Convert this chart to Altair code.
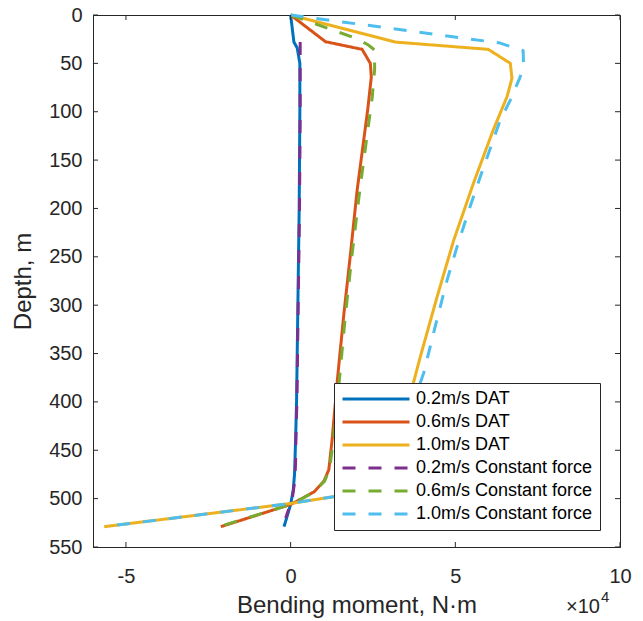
import altair as alt
import pandas as pd

# Series names, colours and dash patterns
SERIES = [
    "0.2m/s DAT",
    "0.6m/s DAT",
    "1.0m/s DAT",
    "0.2m/s Constant force",
    "0.6m/s Constant force",
    "1.0m/s Constant force",
]
COLORS = ["#0072BD", "#D95319", "#EDB120", "#7E2F8E", "#77AC30", "#4DBEEE"]
DASHES = [[1, 0], [1, 0], [1, 0], [13, 13], [13, 13], [13, 13]]

# Bending moment profiles (moment in 10^4 N·m, depth in m)
depth_02_dat = [0, 28, 34, 50, 100, 200, 300, 400, 440, 474, 491, 506, 529]
moment_02_dat = [0, 0.10, 0.20, 0.28, 0.28, 0.26, 0.22, 0.18, 0.15, 0.12, 0.08, 0.0, -0.20]

depth_06_dat = [0, 27.6, 35.5, 50, 64, 98, 181, 246, 308, 377, 439, 470, 482, 493, 500.7, 506, 529]
moment_06_dat = [0, 1.06, 2.17, 2.42, 2.45, 2.34, 2.02, 1.82, 1.62, 1.42, 1.26, 1.16, 1.01, 0.71, 0.30, 0.0, -2.12]

depth_10_dat = [0, 28, 35.5, 50, 65.4, 84.5, 119, 174, 233, 291, 353, 380, 430, 488, 498, 505, 529]
moment_10_dat = [0, 3.18, 6.0, 6.67, 6.72, 6.57, 6.15, 5.55, 4.95, 4.45, 3.94, 3.73, 3.45, 3.2, 1.3, 0.0, -5.66]

depth_02_cf = [28, 50, 100, 200, 300, 400, 440, 463, 483, 500, 520]
moment_02_cf = [0.29, 0.29, 0.29, 0.27, 0.23, 0.19, 0.16, 0.15, 0.12, 0.05, -0.15]

depth_06_cf = [0, 24, 31, 36.2, 56.9, 67, 84.5, 112, 181, 246, 308, 377, 439, 470, 482, 493, 500.7, 506, 529]
moment_06_cf = [0, 1.97, 2.36, 2.55, 2.55, 2.52, 2.48, 2.37, 2.10, 1.87, 1.67, 1.48, 1.30, 1.18, 1.03, 0.72, 0.30, 0.0, -2.17]

depth_10_cf = [0, 29, 37, 50, 64, 88, 109, 167, 198, 240, 274, 322, 370, 380, 430, 482, 498, 505, 529]
moment_10_cf = [0, 6.36, 7.06, 7.07, 6.97, 6.67, 6.36, 5.76, 5.45, 5.05, 4.75, 4.39, 4.04, 3.94, 3.70, 3.45, 1.3, 0.0, -5.66]

X_TICKS = [-5, 0, 5, 10]
Y_TICKS = list(range(0, 551, 50))

profiles = [
    (depth_02_dat, moment_02_dat),
    (depth_06_dat, moment_06_dat),
    (depth_10_dat, moment_10_dat),
    (depth_02_cf, moment_02_cf),
    (depth_06_cf, moment_06_cf),
    (depth_10_cf, moment_10_cf),
]

rows = []
for name, (depths, moments) in zip(SERIES, profiles):
    for i, (d, m) in enumerate(zip(depths, moments)):
        rows.append({"series": name, "depth": d, "moment": m, "idx": i})
df = pd.DataFrame(rows)

FONT = "Liberation Sans"
AXIS_COLOR = "#262626"
W, H = 527, 532
TICK_LEN = 5

x_scale = alt.Scale(domain=[-6, 10], nice=False, zero=False)
y_scale = alt.Scale(domain=[0, 550], reverse=True, nice=False, zero=False)

x_axis = alt.Axis(
    values=X_TICKS,
    title="Bending moment, N·m",
    ticks=False,
    labelPadding=19,
    labelFlush=False,
    labelExpr="'' + datum.value",
    titlePadding=7,
)
y_axis = alt.Axis(
    values=Y_TICKS,
    title="Depth, m",
    ticks=False,
    labelPadding=11,
    labelFlush=False,
    labelExpr="'' + datum.value",
    titlePadding=13,
)

legend = alt.Legend(
    title=None,
    orient="none",
    legendX=241,
    legendY=368,
    symbolType="stroke",
    symbolSize=67 * 67,
    symbolStrokeWidth=3,
    labelFont=FONT,
    labelFontSize=18,
    labelColor="#000000",
    labelLimit=400,
    labelOffset=5,
    fillColor="#ffffff",
    strokeColor=AXIS_COLOR,
    padding=7,
    rowPadding=5,
    clipHeight=18,
)

lines = alt.Chart(df).mark_line(strokeWidth=3, strokeCap="butt", strokeJoin="round").encode(
    x=alt.X("moment:Q", scale=x_scale, axis=x_axis),
    y=alt.Y("depth:Q", scale=y_scale, axis=y_axis),
    color=alt.Color("series:N", scale=alt.Scale(domain=SERIES, range=COLORS), legend=legend),
    strokeDash=alt.StrokeDash("series:N", scale=alt.Scale(domain=SERIES, range=DASHES), legend=legend),
    order="idx:Q",
)

# Inward tick marks on all four sides of the box
xt = pd.DataFrame({"t": X_TICKS})
yt = pd.DataFrame({"t": Y_TICKS})
tick_style = dict(color=AXIS_COLOR, strokeWidth=1)
x_ticks_bottom = alt.Chart(xt).mark_rule(**tick_style).encode(
    x=alt.X("t:Q", scale=x_scale, axis=x_axis), y=alt.value(H), y2=alt.value(H - TICK_LEN)
)
x_ticks_top = alt.Chart(xt).mark_rule(**tick_style).encode(
    x=alt.X("t:Q", scale=x_scale, axis=x_axis), y=alt.value(0), y2=alt.value(TICK_LEN)
)
y_ticks_left = alt.Chart(yt).mark_rule(**tick_style).encode(
    y=alt.Y("t:Q", scale=y_scale, axis=y_axis), x=alt.value(0), x2=alt.value(TICK_LEN)
)
y_ticks_right = alt.Chart(yt).mark_rule(**tick_style).encode(
    y=alt.Y("t:Q", scale=y_scale, axis=y_axis), x=alt.value(W), x2=alt.value(W - TICK_LEN)
)

# Axis exponent label
exp_base = alt.Chart(pd.DataFrame({"s": ["×10"]})).mark_text(
    font=FONT, fontSize=20, align="left", baseline="middle", color=AXIS_COLOR
).encode(text="s:N", x=alt.value(473), y=alt.value(592))
exp_power = alt.Chart(pd.DataFrame({"s": ["4"]})).mark_text(
    font=FONT, fontSize=15, align="left", baseline="middle", color=AXIS_COLOR
).encode(text="s:N", x=alt.value(508), y=alt.value(582))

chart = alt.layer(
    lines, x_ticks_bottom, x_ticks_top, y_ticks_left, y_ticks_right, exp_base, exp_power
).properties(
    width=W,
    height=H,
    padding={"left": 93, "top": 15, "right": 23, "bottom": 74},
    autosize=alt.AutoSizeParams(type="none"),
    background="#ffffff",
).configure_view(
    stroke=AXIS_COLOR, strokeWidth=1
).configure_axis(
    grid=False,
    domainColor=AXIS_COLOR,
    domainWidth=1,
    labelFont=FONT,
    labelFontSize=20,
    labelColor=AXIS_COLOR,
    titleFont=FONT,
    titleFontSize=24,
    titleFontWeight="normal",
    titleColor=AXIS_COLOR,
)

chart.save("out.html", embed_options={"renderer": "svg", "actions": False})
